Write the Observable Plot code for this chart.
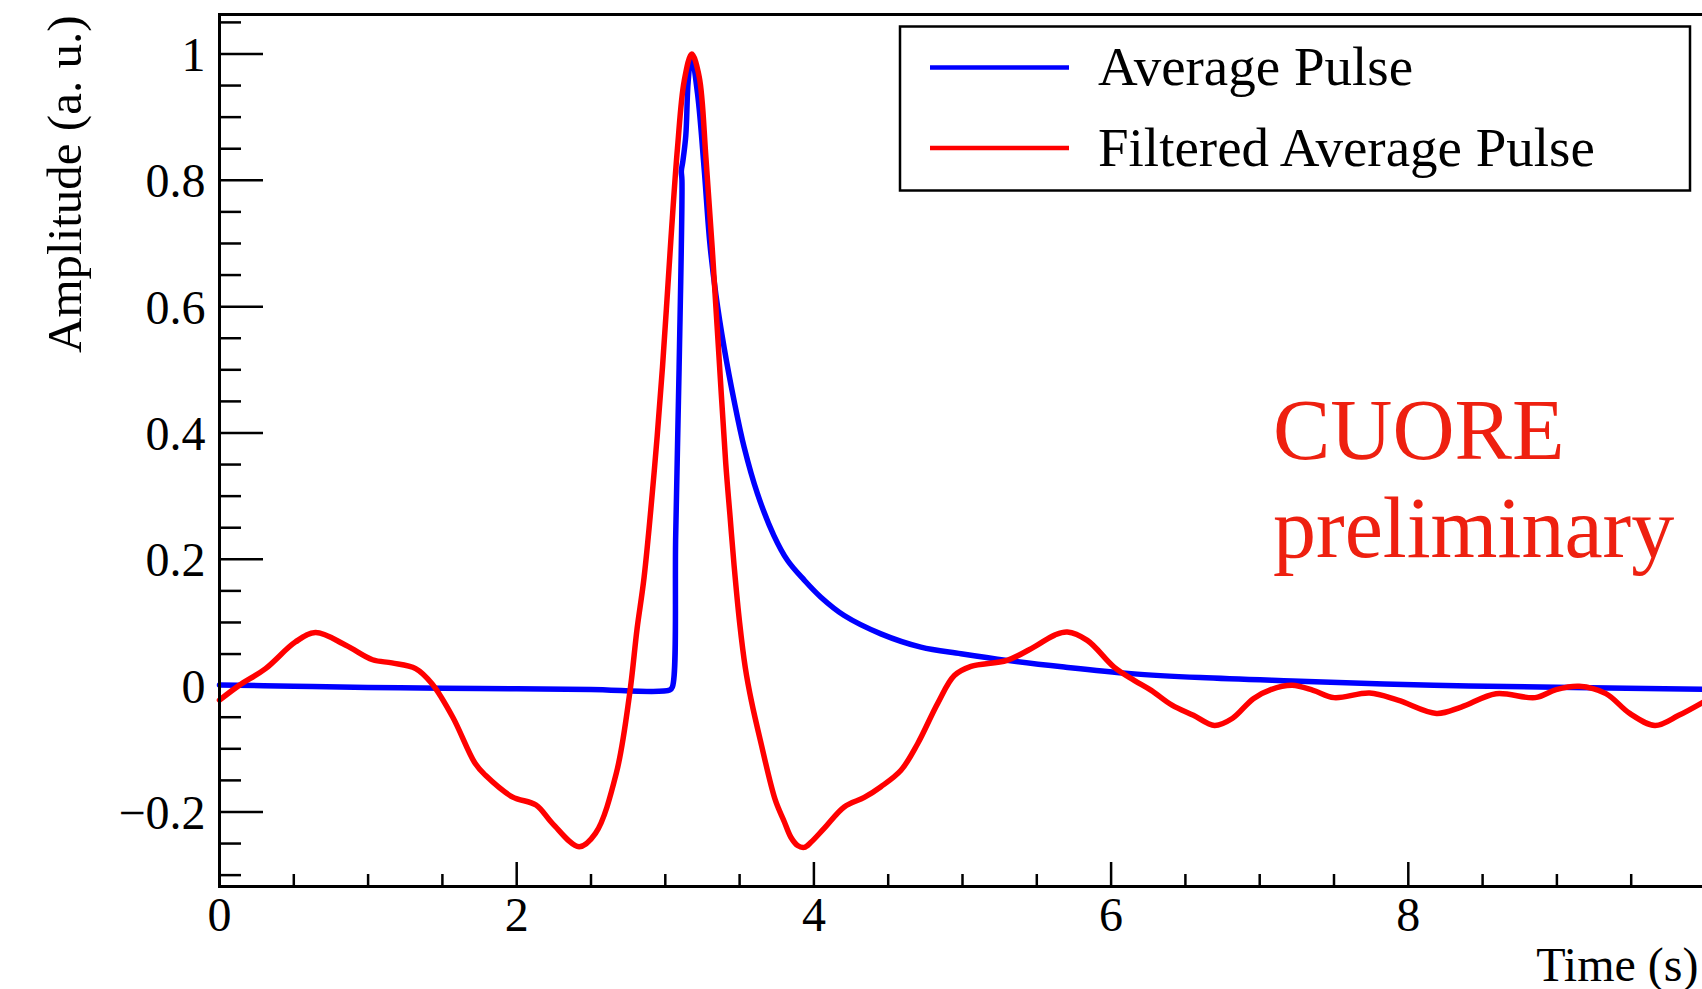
<!DOCTYPE html>
<html><head><meta charset="utf-8">
<script src="https://cdn.jsdelivr.net/npm/d3@7"></script>
<script src="https://cdn.jsdelivr.net/npm/@observablehq/plot@0.6"></script>
<style>
html,body{margin:0;padding:0;background:#fff;overflow:hidden;width:1702px;height:989px;}
#chart svg{display:block;max-width:none;}
</style></head><body><div id="chart"></div>
<script>
// ---- data ----
const avgT = [0.00,0.5,1.0,1.5,2.0,2.5,3.03,3.048,3.07,3.093,3.112,3.108,3.118,3.138,3.154,3.176,3.217,3.261,3.30,3.34,3.396,3.463,3.53,3.62,3.73,3.823,3.935,4.047,4.204,4.451,4.72,4.99,5.30,5.685,6.135,6.60,7.22,8.17,9.11,10.0];
const avgV = [0.001,-0.001,-0.003,-0.004,-0.005,-0.006,-0.007,-0.002,0.238,0.504,0.80,0.815,0.83,0.871,0.957,0.997,0.937,0.82,0.70,0.62,0.535,0.451,0.378,0.304,0.238,0.198,0.167,0.140,0.111,0.082,0.061,0.0506,0.040,0.0294,0.019,0.0127,0.0074,0.0005,-0.003,-0.006];
const filtT = [0.00,0.13,0.31,0.51,0.646,0.85,1.03,1.16,1.32,1.43,1.57,1.72,1.79,1.97,2.13,2.24,2.42,2.53,2.67,2.76,2.81,2.857,2.925,2.981,3.037,3.082,3.127,3.178,3.228,3.273,3.318,3.362,3.407,3.435,3.463,3.50,3.538,3.58,3.64,3.74,3.80,3.845,3.89,3.935,3.98,4.069,4.204,4.339,4.451,4.586,4.698,4.833,4.945,5.057,5.30,5.48,5.62,5.705,5.84,6.02,6.155,6.27,6.41,6.554,6.696,6.815,6.957,7.075,7.218,7.36,7.50,7.74,7.93,8.19,8.356,8.59,8.854,8.995,9.15,9.33,9.49,9.66,9.82,10.0];
const filtV = [-0.023,0.000,0.027,0.069,0.084,0.064,0.041,0.036,0.027,0.003,-0.050,-0.123,-0.142,-0.176,-0.189,-0.218,-0.255,-0.234,-0.139,-0.013,0.09,0.171,0.338,0.504,0.704,0.851,0.957,1.000,0.964,0.837,0.684,0.518,0.351,0.27,0.19,0.10,0.029,-0.025,-0.087,-0.181,-0.215,-0.240,-0.253,-0.256,-0.248,-0.226,-0.192,-0.177,-0.160,-0.134,-0.092,-0.028,0.016,0.0305,0.040,0.061,0.080,0.085,0.0717,0.0294,0.0084,-0.0075,-0.031,-0.047,-0.063,-0.052,-0.0206,-0.0063,0.0005,-0.0074,-0.019,-0.0117,-0.023,-0.044,-0.034,-0.0127,-0.019,-0.0063,-0.001,-0.0127,-0.044,-0.063,-0.047,-0.024];
const seriesNames = ["Average Pulse", "Filtered Average Pulse"];
const seriesColors = ["#0000ff", "#ff0000"];
const xMajorTicks = [0, 2, 4, 6, 8, 10];
const xTickLabels = ["0", "2", "4", "6", "8", ""];
const xMinorTicks = [0.5, 1, 1.5, 2.5, 3, 3.5, 4.5, 5, 5.5, 6.5, 7, 7.5, 8.5, 9, 9.5];
const yMajorTicks = [-0.2, 0, 0.2, 0.4, 0.6, 0.8, 1];
const yTickLabels = ["\u22120.2", "0", "0.2", "0.4", "0.6", "0.8", "1"];
const yMinorTicks = [-0.3,-0.25,-0.15,-0.1,-0.05,0.05,0.1,0.15,0.25,0.3,0.35,0.45,0.5,0.55,0.65,0.7,0.75,0.85,0.9,0.95,1.05];
const xTitle = "Time (s)";
const yTitle = "Amplitude (a. u.)";
const annotation = ["CUORE", "preliminary"];

// ---- layout ----
const W = 1706, H = 989, mL = 219, mR = 1, mT = 14, mB = 103;
const plotW = W - mL - mR, plotH = H - mT - mB;
const serif = "'Liberation Serif', 'Times New Roman', serif";

const avg = avgT.map((t, i) => ({t, v: avgV[i]}));
const filt = filtT.map((t, i) => ({t, v: filtV[i]}));

const chart = Plot.plot({
  width: W, height: H,
  marginLeft: mL, marginRight: mR, marginTop: mT, marginBottom: mB,
  style: {maxWidth: "none", fontFamily: serif, background: "white"},
  x: {domain: [0, 10], axis: null},
  y: {domain: [-0.318, 1.0625], axis: null},
  marks: [
    Plot.tickY(yMinorTicks, {y: d => d, insetRight: plotW - 22, stroke: "black", strokeWidth: 2.5}),
    Plot.tickY(yMajorTicks, {y: d => d, insetRight: plotW - 44, stroke: "black", strokeWidth: 2.5}),
    Plot.tickX(xMinorTicks, {x: d => d, insetTop: plotH - 12, stroke: "black", strokeWidth: 2.5}),
    Plot.tickX(xMajorTicks, {x: d => d, insetTop: plotH - 24, stroke: "black", strokeWidth: 2.5}),
    Plot.line(avg, {x: "t", y: "v", stroke: seriesColors[0], strokeWidth: 5.5, curve: "catmull-rom"}),
    Plot.line(filt, {x: "t", y: "v", stroke: seriesColors[1], strokeWidth: 5.5, curve: "catmull-rom"}),
    Plot.frame({stroke: "black", strokeWidth: 3}),
    Plot.text(yMajorTicks, {y: d => d, text: (d, i) => yTickLabels[i], frameAnchor: "left", textAnchor: "end", lineAnchor: "bottom", dx: -14, dy: 17, fontSize: 48, fill: "black", fontFamily: serif}),
    Plot.text(xMajorTicks, {x: d => d, text: (d, i) => xTickLabels[i], frameAnchor: "bottom", textAnchor: "middle", lineAnchor: "bottom", dy: 44, fontSize: 48, fill: "black", fontFamily: serif}),
    Plot.text([xTitle], {frameAnchor: "bottom-right", textAnchor: "end", lineAnchor: "bottom", dx: -7, dy: 94, fontSize: 48, fill: "black", fontFamily: serif}),
    Plot.text([yTitle], {frameAnchor: "top-left", rotate: -90, textAnchor: "end", lineAnchor: "bottom", dx: -139, dy: 1, fontSize: 49, fill: "black", fontFamily: serif})
  ]
});
document.getElementById("chart").appendChild(chart);

// ---- legend & annotation ----
const svg = d3.select(chart);
const lg = svg.append("g").attr("text-anchor", "start");
lg.append("rect").attr("x", 900).attr("y", 26.5).attr("width", 790).attr("height", 164)
  .attr("fill", "white").attr("stroke", "black").attr("stroke-width", 2.5);
const rowY = [67.5, 148];
seriesNames.forEach((name, i) => {
  lg.append("line").attr("x1", 930).attr("x2", 1069).attr("y1", rowY[i]).attr("y2", rowY[i])
    .attr("stroke", seriesColors[i]).attr("stroke-width", 4.5);
  lg.append("text").attr("x", 1098).attr("y", rowY[i] + 17.5).attr("font-size", 55)
    .attr("text-anchor", "start").attr("font-family", serif).attr("fill", "black").text(name);
});
const annY = [459, 557];
annotation.forEach((s, i) => {
  svg.append("text").attr("x", 1273).attr("y", annY[i]).attr("font-size", 86)
    .attr("text-anchor", "start").attr("font-family", serif).attr("fill", "#ee2010").text(s);
});
</script></body></html>
